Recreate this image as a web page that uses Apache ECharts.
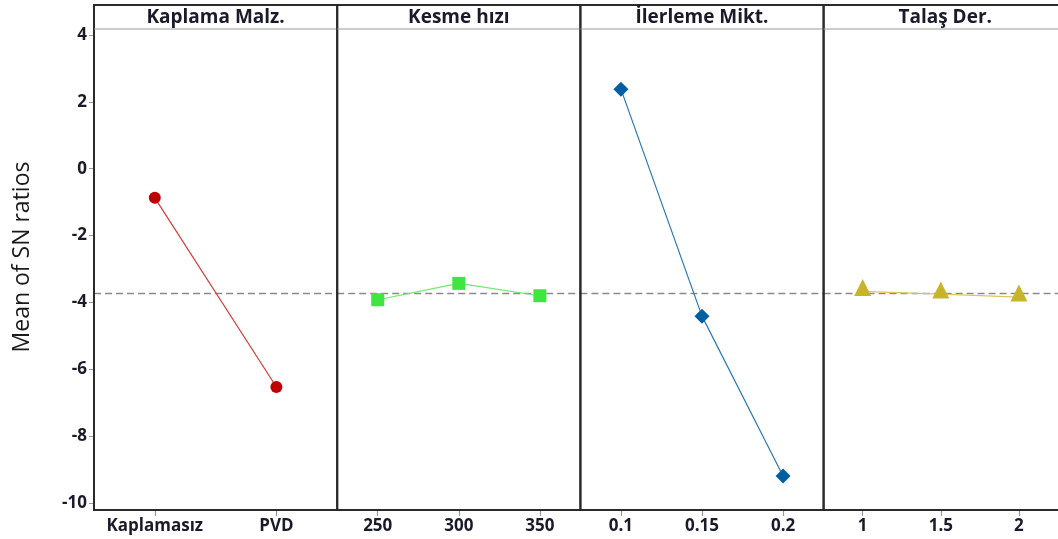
<!DOCTYPE html>
<html><head><meta charset="utf-8">
<script src="https://cdn.jsdelivr.net/npm/echarts@6/dist/echarts.min.js"></script>
<style>html,body{margin:0;padding:0;background:#fff}#c{width:1058px;height:539px}</style>
</head><body><div id="c"></div>
<script>
// ---- data ----
const panelTitles = ['Kaplama Malz.', 'Kesme hızı', 'İlerleme Mikt.', 'Talaş Der.'];
const catKaplama = ['Kaplamasız', 'PVD'];
const catKesme = ['250', '300', '350'];
const catIlerleme = ['0.1', '0.15', '0.2'];
const catTalas = ['1', '1.5', '2'];
const valKaplama = [-0.87, -6.53];
const valKesme = [-3.92, -3.43, -3.80];
const valIlerleme = [2.38, -4.41, -9.19];
const valTalas = [-3.67, -3.75, -3.84];
const overallMean = -3.74;
const yTicks = [-10, -8, -6, -4, -2, 0, 2, 4];
const yTitle = 'Mean of SN ratios';

// ---- layout ----
const L0 = 94, W = 243.2, TOP = 5, HEADB = 29, BOT = 510;
const cats = [catKaplama, catKesme, catIlerleme, catTalas];
const vals = [valKaplama, valKesme, valIlerleme, valTalas];
const colors = ['#c00000', '#3fe63f', '#005fa3', '#c8b42a'];
const lineColors = ['#d43a3a', '#6ee86e', '#2a78b8', '#d8c860'];
const symbols = ['circle', 'rect', 'diamond', 'triangle'];
const sizes = [12, 13, 15, 17];
const offsets = [[0,0],[0,0],[0,0],[0,-4]];
const FONT = '"Open Sans", "DejaVu Sans", sans-serif';
const TXT = '#1a1a2a';

const grids = [], xAxes = [], yAxes = [], series = [], graphics = [];
for (let i = 0; i < 4; i++) {
  const left = L0 + i * W;
  grids.push({ left: left, top: HEADB, width: W, height: BOT - HEADB });
  xAxes.push({
    type: 'category', gridIndex: i, data: cats[i], boundaryGap: true, position: 'bottom',
    axisLine: { show: true, onZero: false, lineStyle: { color: '#2a2a2a', width: 2 } },
    axisTick: { show: true, inside: false, interval: 0, alignWithLabel: true, length: 6, lineStyle: { color: '#999', width: 1.2 } },
    axisLabel: { interval: 0, color: TXT, fontSize: 17, fontWeight: 'bold', fontFamily: FONT, margin: 8, hideOverlap: false },
    splitLine: { show: false }
  });
  yAxes.push({
    type: 'value', gridIndex: i, min: -10.21, max: 4.18,
    axisLine: { show: false },
    axisTick: { show: i === 0, length: 5, customValues: yTicks, lineStyle: { color: '#999' } },
    axisLabel: { show: i === 0, customValues: yTicks, color: TXT, fontSize: 17, fontWeight: 'bold', fontFamily: FONT, margin: 7 },
    splitLine: { show: false }
  });
  series.push({
    type: 'line', xAxisIndex: i, yAxisIndex: i, data: vals[i],
    symbol: symbols[i], symbolSize: sizes[i], symbolOffset: offsets[i],
    itemStyle: { color: colors[i] },
    lineStyle: { color: lineColors[i], width: 1.2 },
    z: 3,
    markLine: {
      silent: true, symbol: 'none', label: { show: false },
      lineStyle: { color: '#8a8a8a', type: [7, 4], width: 1.3 },
      data: [{ yAxis: overallMean }], z: 1
    }
  });
  graphics.push({
    type: 'rect', shape: { x: left, y: TOP, width: W, height: BOT - TOP },
    style: { fill: 'none', stroke: '#2a2a2a', lineWidth: 2 }, z: 10
  });
  graphics.push({
    type: 'line', shape: { x1: left, y1: HEADB, x2: left + W, y2: HEADB },
    style: { stroke: '#9a9a9a', lineWidth: 1.2 }, z: 10
  });
  graphics.push({
    type: 'text', x: left + W / 2, y: (TOP + HEADB) / 2 + 1,
    style: { text: panelTitles[i], fill: TXT, font: 'bold 19px ' + FONT, align: 'center', verticalAlign: 'middle' },
    z: 10
  });
}
graphics.push({
  type: 'text', x: 22, y: 257, rotation: Math.PI / 2,
  style: { text: yTitle, fill: '#1a1a1a', font: '23px ' + FONT, align: 'center', verticalAlign: 'middle' }
});

const chart = echarts.init(document.getElementById('c'), null, { renderer: 'canvas' });
chart.setOption({
  animation: false,
  backgroundColor: '#fff',
  grid: grids, xAxis: xAxes, yAxis: yAxes, series: series, graphic: graphics
});
</script></body></html>
